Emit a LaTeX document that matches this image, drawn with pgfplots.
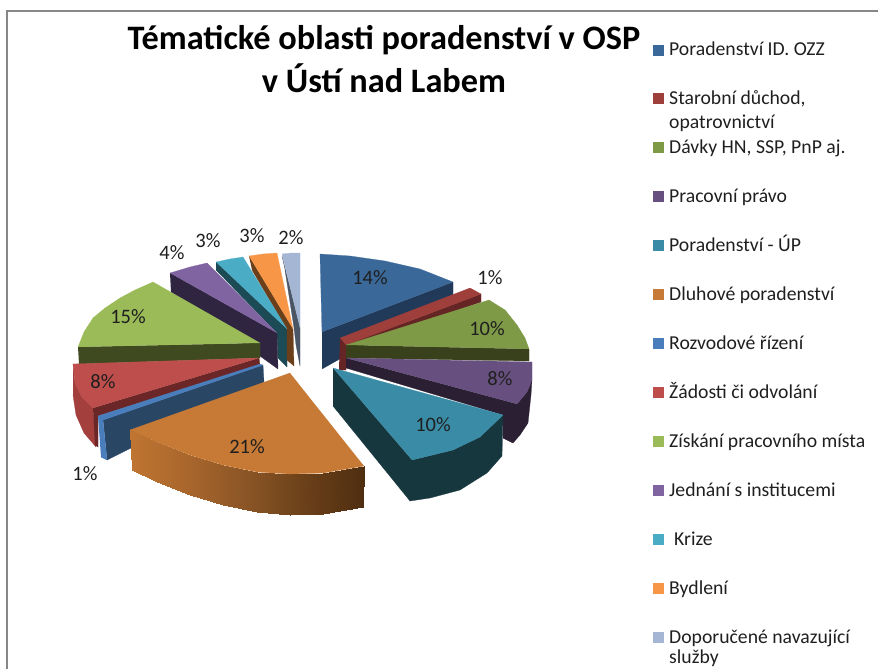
\documentclass[border=0pt]{standalone}
\usepackage{pgfplots}
\pgfplotsset{compat=1.18}
\usepackage{fontspec}
\setmainfont{Carlito}
\newcommand{\Poly}[2]{\addplot[fill=#1,draw=#1,line width=.25pt,line join=round] coordinates {#2};}
\newcommand{\Lab}[3]{\node[font=\fontsize{20.5}{22}\selectfont,color=black!88,inner sep=0] at (axis cs:#1,#2) {#3};}
\newcommand{\LegT}[3]{\node[font=\fontsize{19.7}{24}\selectfont,color=black!88,anchor=base west,inner sep=0] at (axis cs:#1,#2+6) {#3};}
\newcommand{\Leg}[4]{\addplot[only marks,mark=square*,mark size=5pt,mark options={fill=#1,draw=#1}] coordinates {(658.5,#2)};
 \LegT{#3}{#2}{#4}}
\definecolor{cA}{HTML}{3A6899}\definecolor{cAs}{HTML}{213A5A}
\definecolor{cB}{HTML}{9E3F3C}\definecolor{cBs}{HTML}{642524}
\definecolor{cC}{HTML}{7E9A47}\definecolor{cCs}{HTML}{39401C}
\definecolor{cD}{HTML}{67507F}\definecolor{cDs}{HTML}{2A1F33}
\definecolor{cE}{HTML}{3A8CA6}\definecolor{cEs}{HTML}{17373F}
\definecolor{cF}{HTML}{C77A35}
\definecolor{cG}{HTML}{4A7DBB}\definecolor{cGs}{HTML}{2A4665}
\definecolor{cH}{HTML}{BD4E4B}\definecolor{cHs}{HTML}{6B2727}\definecolor{cHo}{HTML}{A33F3C}
\definecolor{cI}{HTML}{9BBB59}\definecolor{cIs}{HTML}{3F4A20}
\definecolor{cJ}{HTML}{8064A2}\definecolor{cJs}{HTML}{2F2540}
\definecolor{cK}{HTML}{4BACC6}\definecolor{cKs}{HTML}{1C4A55}
\definecolor{cL}{HTML}{F79646}\definecolor{cLs}{HTML}{6B3F1A}
\definecolor{cM}{HTML}{A5B6D5}\definecolor{cMs}{HTML}{4A5566}
\begin{document}
\begin{tikzpicture}
\useasboundingbox (0,0) rectangle (878pt,669pt);
\begin{axis}[
  at={(0,0)},anchor=south west,
  scale only axis,width=878pt,height=669pt,
  xmin=0,xmax=878,ymin=0,ymax=669,y dir=reverse,
  axis lines=none,
  colormap={orside}{rgb255=(192,117,50) rgb255=(168,102,44) rgb255=(138,85,38) rgb255=(106,64,25) rgb255=(79,46,16)},
]
% frame
\addplot[color=black!47,line width=1.6pt] coordinates {(7,669)(7,11)(878,11)};
% back slices: sides
\Poly{cKs}{(216,262)(287,329)(287,367)(278,358)(277,333)(216,270)}
\Poly{cLs}{(249,256)(293,329)(294,366)(287,360)(287,330)(252,270)}
\Poly{cMs}{(282,256)(300,328)(300,366)(296,345)(294,328)(285,270)}
\Poly{cJs}{(170,273)(277,333)(278,369)(171,292)}
% back slices: tops
\Poly{cK}{(287,329)(243,257)(230,259)(216,262)}
\Poly{cL}{(293,329)(277,253)(263,254)(249,256)}
\Poly{cM}{(300,328)(300,253)(291,253)(282,254)}
\Poly{cJ}{(277,333)(207,263)(190,267)(170,273)}
% green 15 %
\Poly{cIs}{(78,347)(260,343)(260,358)(79,364)}
\Poly{cI}{(260,343)(153,282)(135,290)(120,298)(105,308)(93,318)(84,332)(78,347)}
% red 8 %
\Poly{cHo}{(73,364)(75,383)(82,397)(93,408)(96,447)(84,433)(76,415)(73,395)}
\Poly{cHs}{(93,408)(259,358)(260,365)(98,416)(98,447)(95,445)}
\Poly{cH}{(259,358)(73,364)(75,383)(82,397)(93,408)}
% blue 1 %
\Poly{cGs}{(103,420)(263,365)(264,382)(107,460)}
\Poly{cG}{(98,416)(260,364)(263,365)(103,420)(107,460)(101,457)}
% orange 21 %
\addplot[surf,shader=interp,mesh/rows=2,point meta=x] table[row sep=\\] {
x y\\
130 430\\ 157 442\\ 190 455\\ 223 465\\ 257 472\\ 290 474\\ 323 473\\ 364 466\\
132 470\\ 157 482\\ 190 495\\ 223 505\\ 257 512\\ 290 515\\ 323 514\\ 363 507\\
};
\Poly{cF}{(290,373)(130,430)(157,442)(190,455)(223,465)(257,472)(290,474)(323,473)(364,466)}
% blue 14 %
\Poly{cAs}{(322,332)(453,282)(453,295)(322,369)}
\Poly{cA}{(322,332)(320,254)(350,256)(385,261)(420,269)(453,282)}
% red 1 %
\Poly{cBs}{(340,338)(346,345)(481,294)(481,302)(346,350)(346,370)(339,370)}
\Poly{cB}{(340,338)(470,288)(481,294)(346,345)}
% green 10 %
\Poly{cCs}{(346,345)(529,349)(529,361)(346,358)}
\Poly{cC}{(346,345)(489,300)(505,310)(517,325)(525,338)(529,349)}
% purple 8 %
\Poly{cDs}{(346,358)(517,404)(527,392)(532,380)(531,395)(528,423)(520,435)(513,443)(503,438)(503,415)(346,368)}
\Poly{cD}{(346,358)(532,362)(532,380)(527,392)(517,404)}
% teal 10 %
\Poly{cEs}{(333,368)(412,460)(453,450)(480,437)(503,415)(502,456)(487,473)(460,490)(430,498)(410,501)(333,406)}
\Poly{cE}{(333,368)(503,415)(480,437)(453,450)(412,460)}
% data labels
\Lab{370}{278}{14\%}
\Lab{490}{278}{1\%}
\Lab{487}{329}{10\%}
\Lab{500}{379}{8\%}
\Lab{433}{425}{10\%}
\Lab{247}{447}{21\%}
\Lab{85}{474}{1\%}
\Lab{103}{382}{8\%}
\Lab{128}{317}{15\%}
\Lab{172}{253}{4\%}
\Lab{208}{241}{3\%}
\Lab{252}{236}{3\%}
\Lab{291}{238}{2\%}
% title
\node[font=\fontsize{34.3}{43}\selectfont\bfseries,align=center,inner sep=0,anchor=center] at (axis cs:384,59) {Tématické oblasti poradenství v OSP\\v Ústí nad Labem};
% legend
\Leg{cA}{50}{669}{Poradenství ID. OZZ}
\Leg{cB}{98}{669}{Starobní důchod,}
\LegT{669}{122}{opatrovnictví}
\Leg{cC}{147}{669}{Dávky HN, SSP, PnP aj.}
\Leg{cD}{196}{669}{Pracovní právo}
\Leg{cE}{245}{669}{Poradenství - ÚP}
\Leg{cF}{294}{669}{Dluhové poradenství}
\Leg{cG}{343}{669}{Rozvodové řízení}
\Leg{cH}{392}{669}{Žádosti či odvolání}
\Leg{cI}{441}{669}{Získání pracovního místa}
\Leg{cJ}{490}{669}{Jednání s institucemi}
\Leg{cK}{539}{674}{Krize}
\Leg{cL}{588}{669}{Bydlení}
\Leg{cM}{637}{669}{Doporučené navazující}
\LegT{669}{657}{služby}
\end{axis}
\end{tikzpicture}
\end{document}
